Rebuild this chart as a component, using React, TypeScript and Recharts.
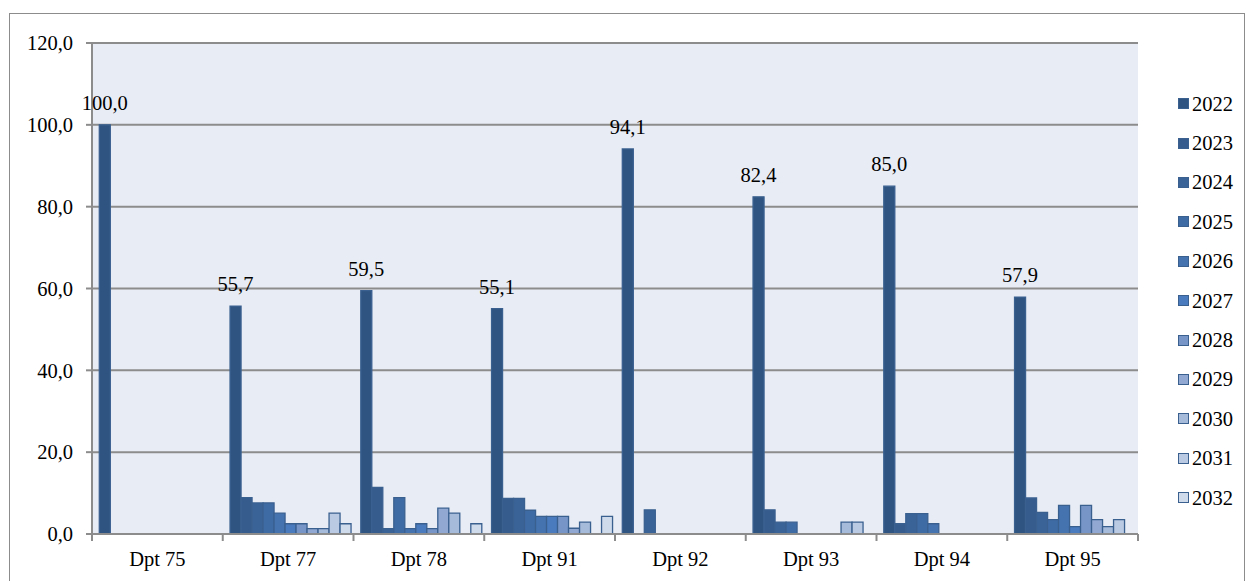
import React from 'react';
import { BarChart, Bar, XAxis, YAxis, CartesianGrid, Legend, LabelList } from 'recharts';

const categories = ['Dpt 75', 'Dpt 77', 'Dpt 78', 'Dpt 91', 'Dpt 92', 'Dpt 93', 'Dpt 94', 'Dpt 95'];
const years = ['2022', '2023', '2024', '2025', '2026', '2027', '2028', '2029', '2030', '2031', '2032'];

const v2022 = [100.0, 55.7, 59.5, 55.1, 94.1, 82.4, 85.0, 57.9];
const v2023 = [0, 8.9, 11.4, 8.7, 0, 5.9, 2.5, 8.8];
const v2024 = [0, 7.6, 1.3, 8.7, 5.9, 2.9, 5.0, 5.3];
const v2025 = [0, 7.6, 8.9, 5.8, 0, 2.9, 5.0, 3.5];
const v2026 = [0, 5.1, 1.3, 4.3, 0, 0, 2.5, 7.0];
const v2027 = [0, 2.5, 2.5, 4.3, 0, 0, 0, 1.8];
const v2028 = [0, 2.5, 1.3, 4.3, 0, 0, 0, 7.0];
const v2029 = [0, 1.3, 6.3, 1.4, 0, 0, 0, 3.5];
const v2030 = [0, 1.3, 5.1, 2.9, 0, 2.9, 0, 1.8];
const v2031 = [0, 5.1, 0, 0, 0, 2.9, 0, 3.5];
const v2032 = [0, 2.5, 2.5, 4.3, 0, 0, 0, 0];

const yTicks = [0, 20, 40, 60, 80, 100, 120];

const seriesValues = [v2022, v2023, v2024, v2025, v2026, v2027, v2028, v2029, v2030, v2031, v2032];
const colors = ['#2F5481', '#355C8D', '#3A6398', '#3F6BA5', '#4473B0', '#4A7BBE', '#7796C7', '#91A9D2', '#A6BAD9', '#BBCAE3', '#CFDAEB'];
const strokeColor = '#3A6090';
const FONT = '"Liberation Serif", "Times New Roman", serif';
const GRAY = '#8c8c8c';

const data = categories.map((c, i) => {
  const row: any = { name: c };
  years.forEach((y, k) => {
    row[y] = seriesValues[k][i];
  });
  return row;
});

const fmt = (v: any) => (typeof v === 'number' ? v.toFixed(1).replace('.', ',') : v);

const XTick = (props: any) => {
  const { x, y, payload, index, visibleTicksCount } = props;
  const off = payload && payload.offset ? payload.offset : 0;
  const last = index === (visibleTicksCount ?? categories.length) - 1;
  return (
    <g>
      <line x1={x - off} x2={x - off} y1={y} y2={y + 7} stroke={GRAY} strokeWidth={2} />
      {last && <line x1={x + off} x2={x + off} y1={y} y2={y + 7} stroke={GRAY} strokeWidth={2} />}
      <text x={x} y={y + 17} dy="0.71em" textAnchor="middle" fill="#000" fontSize={20.5} style={{ fontFamily: FONT }}>
        {payload.value}
      </text>
    </g>
  );
};

const LegendContent = () => (
  <div style={{ fontFamily: FONT, fontSize: 20.5, color: '#000', whiteSpace: 'nowrap', width: 80 }}>
    {years.map((y, k) => (
      <div key={y} style={{ height: 39.4, display: 'flex', alignItems: 'center' }}>
        <span
          style={{
            display: 'inline-block',
            flexShrink: 0,
            width: 9,
            height: 9,
            background: colors[k],
            border: `1.5px solid ${strokeColor}`,
            marginRight: 3,
          }}
        />
        <span style={{ lineHeight: '20px' }}>{y}</span>
      </div>
    ))}
  </div>
);

export default function App() {
  return (
    <div style={{ position: 'absolute', left: 0, top: 0, width: 1250, height: 581, overflow: 'hidden', background: '#fff' }}>
      <div
        style={{
          position: 'absolute',
          left: 9,
          top: 13,
          width: 1236,
          height: 620,
          border: `1.5px solid ${GRAY}`,
          boxSizing: 'border-box',
        }}
      />
      <div style={{ position: 'absolute', left: 0, top: 0 }}>
        <BarChart
          width={1250}
          height={581}
          data={data}
          margin={{ top: 43, right: 112, left: 0, bottom: 0 }}
          barCategoryGap={7.3}
          barGap={0}
        >
          <CartesianGrid vertical={false} fill="#E8ECF4" stroke={GRAY} strokeWidth={2} />
          <XAxis
            dataKey="name"
            height={47}
            interval={0}
            axisLine={{ stroke: GRAY, strokeWidth: 2 }}
            tickLine={false}
            tickSize={0}
            tickMargin={0}
            tick={<XTick />}
          />
          <YAxis
            width={92}
            domain={[0, 120]}
            ticks={yTicks}
            interval={0}
            tickFormatter={fmt}
            axisLine={{ stroke: GRAY, strokeWidth: 2 }}
            tickLine={{ stroke: GRAY, strokeWidth: 2 }}
            tickSize={6}
            tickMargin={13}
            tick={{ fill: '#000', fontSize: 20.5, style: { fontFamily: FONT } }}
          />
          <Legend
            layout="vertical"
            align="right"
            verticalAlign="top"
            content={<LegendContent />}
            wrapperStyle={{ position: 'absolute', left: 1178, top: 84, width: 0, height: 0, overflow: 'visible' }}
          />
          {years.map((y, k) => (
            <Bar
              key={y}
              dataKey={y}
              fill={colors[k]}
              stroke={strokeColor}
              strokeWidth={1.3}
              isAnimationActive={false}
            >
              {k === 0 && (
                <LabelList
                  dataKey={y}
                  position="top"
                  offset={15}
                  formatter={fmt}
                  style={{ fill: '#000', fontSize: 20.5, fontFamily: FONT }}
                />
              )}
            </Bar>
          ))}
        </BarChart>
      </div>
    </div>
  );
}
